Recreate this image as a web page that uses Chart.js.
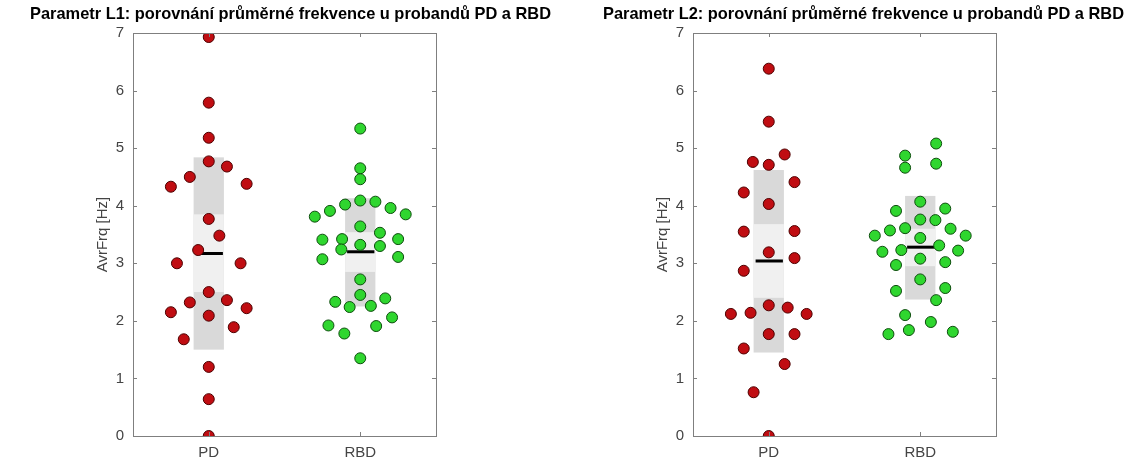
<!DOCTYPE html>
<html>
<head>
<meta charset="utf-8">
<script src="https://cdn.jsdelivr.net/npm/chart.js@4"></script>
<style>
  body { margin: 0; background: #fff; }
  .panel { position: absolute; top: 0; width: 564px; height: 461px; }
</style>
</head>
<body>
<div class="panel" style="left:0px"><canvas id="c1"></canvas></div>
<div class="panel" style="left:560px"><canvas id="c2"></canvas></div>
<script>
// categories and axis ticks
var categories = ['PD', 'RBD'];
var yTicks = [0, 1, 2, 3, 4, 5, 6, 7];

// parametr L1
var l1PD = [6.93, 5.79, 5.18, 4.77, 4.68, 4.50, 4.33, 4.38, 3.77, 3.48, 3.23, 3.00, 3.00, 2.50, 2.32, 2.36, 2.15, 2.22, 2.09, 1.89, 1.68, 1.20, 0.64, 0.00];
var l1PDJitter = [0, 0, 0, 0, 0.12, -0.125, -0.25, 0.25, 0, 0.07, -0.07, -0.21, 0.21, 0, -0.125, 0.12, -0.25, 0.25, 0, 0.165, -0.165, 0, 0, 0];
var l1RBD = [5.34, 4.65, 4.46, 4.09, 4.02, 4.07, 3.91, 3.96, 3.81, 3.85, 3.64, 3.53, 3.41, 3.42, 3.42, 3.32, 3.30, 3.24, 3.07, 3.11, 2.72, 2.45, 2.33, 2.39, 2.24, 2.26, 2.06, 1.92, 1.91, 1.78, 1.35];
var l1RBDJitter = [0, 0, 0, 0, -0.1, 0.1, -0.2, 0.2, -0.3, 0.3, 0, 0.13, -0.25, -0.12, 0.25, 0, 0.13, -0.125, -0.25, 0.25, 0, 0, -0.165, 0.165, -0.07, 0.07, 0.21, -0.21, 0.105, -0.105, 0];
var l1Mean = [3.17, 3.20];
var l1Outer = [[1.50, 4.84], [2.25, 4.13]];
var l1Inner = [[2.50, 3.85], [2.85, 3.54]];

// parametr L2
var l2PD = [6.38, 5.46, 4.89, 4.76, 4.71, 4.41, 4.23, 4.03, 3.55, 3.56, 3.19, 3.09, 2.87, 2.27, 2.23, 2.12, 2.14, 2.12, 1.77, 1.77, 1.52, 1.25, 0.76, 0.00];
var l2PDJitter = [0, 0, 0.105, -0.105, 0, 0.17, -0.165, 0, -0.165, 0.17, 0, 0.17, -0.165, 0, 0.125, -0.25, -0.12, 0.25, 0, 0.17, -0.165, 0.105, -0.1, 0];
var l2RBD = [5.08, 4.87, 4.73, 4.66, 4.07, 3.95, 3.91, 3.76, 3.75, 3.61, 3.57, 3.60, 3.48, 3.48, 3.44, 3.31, 3.20, 3.23, 3.22, 3.08, 2.97, 3.02, 2.72, 2.52, 2.57, 2.36, 2.10, 1.98, 1.84, 1.81, 1.77];
var l2RBDJitter = [0.105, -0.1, 0.105, -0.1, 0, 0.165, -0.16, 0, 0.1, -0.1, -0.2, 0.2, -0.3, 0.3, 0, 0.125, -0.25, -0.125, 0.25, 0, -0.16, 0.165, 0, -0.16, 0.165, 0.105, -0.1, 0.07, -0.075, 0.215, -0.21];
var l2Mean = [3.04, 3.28];
var l2Outer = [[1.45, 4.62], [2.37, 4.17]];
var l2Inner = [[2.40, 3.68], [2.95, 3.60]];

var axisColor = '#7f7f7f';
var textColor = '#444444';
var fontFamily = "'Liberation Sans', Arial, sans-serif";

function points(values, jitter, cat) {
  var out = [];
  for (var i = 0; i < values.length; i++) {
    out.push({x: cat + jitter[i], y: values[i]});
  }
  return out;
}

// grey boxes + mean line, drawn behind the dots
var boxPlugin = {
  id: 'boxes',
  beforeDatasetsDraw: function(chart) {
    var o = chart.options.plugins.boxes;
    var x = chart.scales.x, y = chart.scales.y, ctx = chart.ctx;
    ctx.save();
    for (var i = 0; i < categories.length; i++) {
      var x0 = x.getPixelForValue(i + 1 - 0.1), x1 = x.getPixelForValue(i + 1 + 0.1);
      var a = y.getPixelForValue(o.outer[i][1]), b = y.getPixelForValue(o.outer[i][0]);
      ctx.fillStyle = '#d9d9d9';
      ctx.fillRect(x0, a, x1 - x0, b - a);
      a = y.getPixelForValue(o.inner[i][1]); b = y.getPixelForValue(o.inner[i][0]);
      ctx.fillStyle = '#f0f0f0';
      ctx.fillRect(x0, a, x1 - x0, b - a);
      var m = y.getPixelForValue(o.mean[i]);
      ctx.strokeStyle = '#000';
      ctx.lineWidth = 3;
      ctx.beginPath();
      ctx.moveTo(x0 + 2, m);
      ctx.lineTo(x1 - 1, m);
      ctx.stroke();
    }
    ctx.restore();
  }
};

// MATLAB style frame with inward ticks, plus the title
var framePlugin = {
  id: 'frame',
  afterDraw: function(chart) {
    var ca = chart.chartArea, ctx = chart.ctx;
    var x = chart.scales.x, y = chart.scales.y;
    var o = chart.options.plugins.frame;
    ctx.save();
    ctx.strokeStyle = axisColor;
    ctx.lineWidth = 1;
    ctx.strokeRect(Math.round(ca.left) + 0.5, Math.round(ca.top) + 0.5, Math.round(ca.right - ca.left), Math.round(ca.bottom - ca.top));
    ctx.beginPath();
    yTicks.forEach(function(v) {
      var p = Math.round(y.getPixelForValue(v)) + 0.5;
      ctx.moveTo(ca.left, p); ctx.lineTo(ca.left + 4, p);
      ctx.moveTo(ca.right, p); ctx.lineTo(ca.right - 4, p);
    });
    [1, 2].forEach(function(v) {
      var p = Math.round(x.getPixelForValue(v)) + 0.5;
      ctx.moveTo(p, ca.bottom); ctx.lineTo(p, ca.bottom - 4);
      ctx.moveTo(p, ca.top); ctx.lineTo(p, ca.top + 4);
    });
    ctx.stroke();
    ctx.fillStyle = '#000';
    ctx.font = 'bold 16.4px ' + fontFamily;
    ctx.textAlign = 'center';
    ctx.textBaseline = 'middle';
    ctx.fillText(o.title, (ca.left + ca.right) / 2 + o.shift, 14);
    ctx.restore();
  }
};

function makeChart(id, title, shift, pd, pdJ, rbd, rbdJ, mean, outer, inner) {
  return new Chart(document.getElementById(id), {
    type: 'scatter',
    data: {
      datasets: [{
        label: categories[0],
        data: points(pd, pdJ, 1),
        backgroundColor: '#c00d12',
        borderColor: '#4d0000',
        borderWidth: 1,
        pointRadius: 5.5,
        pointHoverRadius: 5.5
      }, {
        label: categories[1],
        data: points(rbd, rbdJ, 2),
        backgroundColor: '#2fd62f',
        borderColor: '#0d4d0d',
        borderWidth: 1,
        pointRadius: 5.5,
        pointHoverRadius: 5.5
      }]
    },
    options: {
      responsive: true,
      maintainAspectRatio: false,
      animation: false,
      layout: {padding: {left: 86, right: 128, top: 33, bottom: 0}},
      plugins: {
        legend: {display: false},
        tooltip: {enabled: false},
        title: {display: false},
        frame: {title: title, shift: shift},
        boxes: {mean: mean, outer: outer, inner: inner}
      },
      scales: {
        x: {
          type: 'linear',
          min: 0.5,
          max: 2.5,
          afterBuildTicks: function(s) { s.ticks = [{value: 1}, {value: 2}]; },
          afterFit: function(s) { s.height = 25; },
          grid: {display: false, drawTicks: false},
          border: {display: false},
          ticks: {
            padding: 8,
            color: textColor,
            font: {family: fontFamily, size: 15},
            callback: function(v) { return categories[v - 1]; }
          }
        },
        y: {
          min: 0,
          max: 7,
          afterBuildTicks: function(s) { s.ticks = yTicks.map(function(v) { return {value: v}; }); },
          afterFit: function(s) { s.width = 47; },
          grid: {display: false, drawTicks: false},
          border: {display: false},
          title: {
            display: true,
            text: 'AvrFrq [Hz]',
            color: textColor,
            font: {family: fontFamily, size: 15},
            padding: {top: 8, bottom: 4}
          },
          ticks: {
            padding: 9,
            color: textColor,
            font: {family: fontFamily, size: 15}
          }
        }
      }
    },
    plugins: [boxPlugin, framePlugin]
  });
}

makeChart('c1', 'Parametr L1: porovnání průměrné frekvence u probandů PD a RBD', 6, l1PD, l1PDJitter, l1RBD, l1RBDJitter, l1Mean, l1Outer, l1Inner);
makeChart('c2', 'Parametr L2: porovnání průměrné frekvence u probandů PD a RBD', 19, l2PD, l2PDJitter, l2RBD, l2RBDJitter, l2Mean, l2Outer, l2Inner);
</script>
</body>
</html>
